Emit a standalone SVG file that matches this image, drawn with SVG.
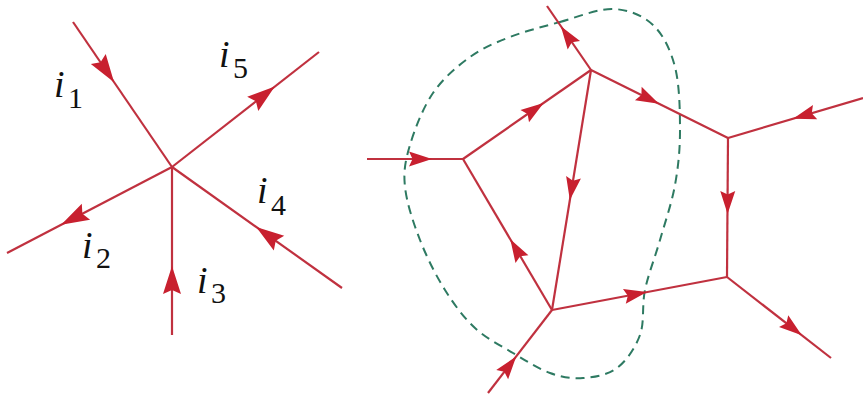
<svg xmlns="http://www.w3.org/2000/svg" width="863" height="394" viewBox="0 0 863 394">
<style>
.w{fill:none;stroke:#c0313f;stroke-width:2.2}
.j{fill:#c0313f}
.cut{fill:none;stroke:#2e7a62;stroke-width:2;stroke-dasharray:9 6}
.ah{fill:#c8202f}
</style>
<defs>
<path id="big" d="M1,0 L-27,-9 L-23,0 L-27,9 Z"/>
<path id="sml" d="M1,0 L-22,-7.5 L-18.5,0 L-22,7.5 Z"/>
</defs>
<rect width="863" height="394" fill="#fff"/>
<g id="cutset">
<path class="cut" d="M560,22 C577.2,17.3 597.5,8.5 613,9 C628.5,9.5 642.7,15.3 653,25 C663.3,34.7 670.5,49.5 675,67 C679.5,84.5 680,110.3 680,130 C680,149.7 678.3,166.7 675,185 C671.7,203.3 665,222.5 660,240 C655,257.5 648.3,274.2 645,290 C641.7,305.8 644.7,322 640,335 C635.3,348 626.5,360.8 617,368 C607.5,375.2 594.2,377.2 583,378 C571.8,378.8 561.7,377.2 550,373 C538.3,368.8 525.5,360.5 513,353 C500.5,345.5 486.3,338.5 475,328 C463.7,317.5 454.2,304.7 445,290 C435.8,275.3 426.7,257.2 420,240 C413.3,222.8 406.7,202.8 405,187 C403.3,171.2 405.3,160.7 410,145 C414.7,129.3 423,107.7 433,93 C443,78.3 457.2,66.3 470,57 C482.8,47.7 495,42.8 510,37 C525,31.2 542.8,26.7 560,22 Z"/>
</g>
<g id="connectors">
<path class="w" d="M73,22 L172,167"/>
<path class="w" d="M172,167 L319,52"/>
<path class="w" d="M172,167 L7,253"/>
<path class="w" d="M172,335 L172,167"/>
<path class="w" d="M342,288 L172,167"/>
<path class="w" d="M367,159 L463,159"/>
<path class="w" d="M463,159 L591,70"/>
<path class="w" d="M591,70 L547,6"/>
<path class="w" d="M591,70 L552,310"/>
<path class="w" d="M552,310 L463,159"/>
<path class="w" d="M591,70 L728,138"/>
<path class="w" d="M728,138 L727,277"/>
<path class="w" d="M863,98 L728,138"/>
<path class="w" d="M552,310 L727,277"/>
<path class="w" d="M727,277 L831,358"/>
<path class="w" d="M488,393 L552,310"/>
<g class="ah">
<use href="#big" transform="translate(113.5,81.3) rotate(55.7)"/>
<use href="#big" transform="translate(274,87.2) rotate(-38)"/>
<use href="#big" transform="translate(62,224.3) rotate(152.5)"/>
<use href="#big" transform="translate(172,267) rotate(-90)"/>
<use href="#big" transform="translate(257,227.5) rotate(-144.6)"/>
<use href="#sml" transform="translate(431,159) rotate(0)"/>
<use href="#sml" transform="translate(542.8,103.5) rotate(-34.8)"/>
<use href="#sml" transform="translate(561.4,27) rotate(-124.5)"/>
<use href="#sml" transform="translate(570,199) rotate(99.2)"/>
<use href="#sml" transform="translate(510.8,240.2) rotate(-120.5)"/>
<use href="#sml" transform="translate(658,103.3) rotate(26.4)"/>
<use href="#sml" transform="translate(727.6,213) rotate(90.4)"/>
<use href="#sml" transform="translate(794,118.4) rotate(163.5)"/>
<use href="#sml" transform="translate(646,292.3) rotate(-10.7)"/>
<use href="#sml" transform="translate(801,334.7) rotate(37.9)"/>
<use href="#sml" transform="translate(515.6,357.2) rotate(-52.4)"/>
</g>
</g>
<g id="node-K"><circle class="j" cx="172" cy="167" r="1"/></g>
<g id="node-A"><circle class="j" cx="463" cy="159" r="1"/></g>
<g id="node-B"><circle class="j" cx="591" cy="70" r="1"/></g>
<g id="node-C"><circle class="j" cx="552" cy="310" r="1"/></g>
<g id="node-D"><circle class="j" cx="728" cy="138" r="1"/></g>
<g id="node-E"><circle class="j" cx="727" cy="277" r="1"/></g>
<g font-family="Liberation Serif, DejaVu Serif, serif" fill="#111">
<g id="label-i1"><text font-style="italic" font-size="38" x="54" y="97">i</text><text font-size="30" x="68" y="108">1</text></g>
<g id="label-i5"><text font-style="italic" font-size="38" x="219" y="67">i</text><text font-size="30" x="233" y="78">5</text></g>
<g id="label-i4"><text font-style="italic" font-size="38" x="257" y="203">i</text><text font-size="30" x="271" y="215">4</text></g>
<g id="label-i2"><text font-style="italic" font-size="38" x="82" y="258">i</text><text font-size="30" x="96" y="268">2</text></g>
<g id="label-i3"><text font-style="italic" font-size="38" x="197" y="293">i</text><text font-size="30" x="211" y="303">3</text></g>
</g>
</svg>
